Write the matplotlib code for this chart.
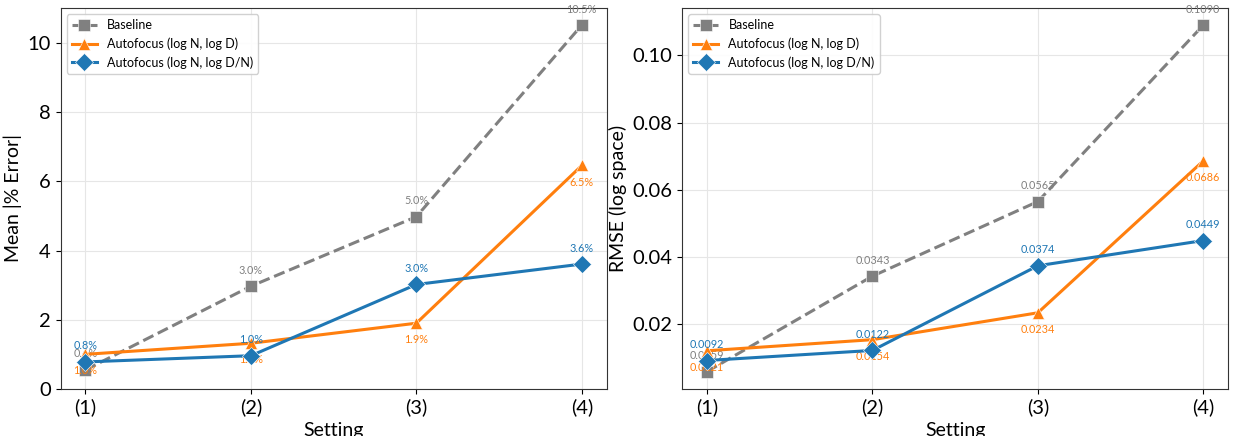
import matplotlib
matplotlib.use("Agg")
import matplotlib.pyplot as plt
import numpy as np

plt.rcParams['font.family'] = ['Lato', 'DejaVu Sans']

settings = ["(1)", "(2)", "(3)", "(4)"]
series_names = ["Baseline", "Autofocus (log N, log D)", "Autofocus (log N, log D/N)"]

mean_err_baseline = [0.55, 2.97, 4.98, 10.52]
mean_err_logd = [1.0, 1.32, 1.9, 6.46]
mean_err_logdn = [0.78, 0.96, 3.02, 3.61]
mean_err_labels_baseline = ["0.6%", "3.0%", "5.0%", "10.5%"]
mean_err_labels_logd = ["1.0%", "1.3%", "1.9%", "6.5%"]
mean_err_labels_logdn = ["0.8%", "1.0%", "3.0%", "3.6%"]

rmse_baseline = [0.0059, 0.0343, 0.0565, 0.1090]
rmse_logd = [0.0121, 0.0154, 0.0234, 0.0686]
rmse_logdn = [0.0092, 0.0122, 0.0374, 0.0449]

colors = ["#808080", "#ff7f0e", "#1f77b4"]
markers = ["s", "^", "D"]
styles = ["--", "-", "-"]
offsets = [11.5, -12, 11.5]

fig = plt.figure(figsize=(12.38, 4.36), dpi=100)
ax1 = fig.add_axes([0.049, 0.108, 0.441, 0.874])
ax2 = fig.add_axes([0.551, 0.108, 0.441, 0.874])

x = np.arange(1, 5)

def draw(ax, data, labels, ylabel):
    for i, (vals, labs) in enumerate(zip(data, labels)):
        ax.plot(x, vals, linestyle=styles[i], marker=markers[i], color=colors[i],
                linewidth=2.2, markersize=9, label=series_names[i],
                markeredgecolor="white", markeredgewidth=0.4, zorder=3)
        for xi, v, lab in zip(x, vals, labs):
            ax.annotate(lab, (xi, v), xytext=(0, offsets[i]), textcoords="offset points",
                        ha="center", va="center", fontsize=7.8, color=colors[i])
    ax.set_xticks(x)
    ax.set_xticklabels(settings)
    ax.set_xlabel("Setting", fontsize=14)
    ax.set_ylabel(ylabel, fontsize=14)
    ax.tick_params(labelsize=14.5)
    ax.grid(True, color="#e6e6e6", linewidth=0.8)
    ax.set_axisbelow(True)
    for s in ax.spines.values():
        s.set_color("#333333")
    ax.legend(loc="upper left", fontsize=9, framealpha=0.9)

draw(ax1, [mean_err_baseline, mean_err_logd, mean_err_logdn],
     [mean_err_labels_baseline, mean_err_labels_logd, mean_err_labels_logdn],
     "Mean |% Error|")
ax1.set_ylim(bottom=0)

draw(ax2, [rmse_baseline, rmse_logd, rmse_logdn],
     [[f"{v:.4f}" for v in rmse_baseline], [f"{v:.4f}" for v in rmse_logd],
      [f"{v:.4f}" for v in rmse_logdn]],
     "RMSE (log space)")

fig.savefig("out.png", dpi=100)
